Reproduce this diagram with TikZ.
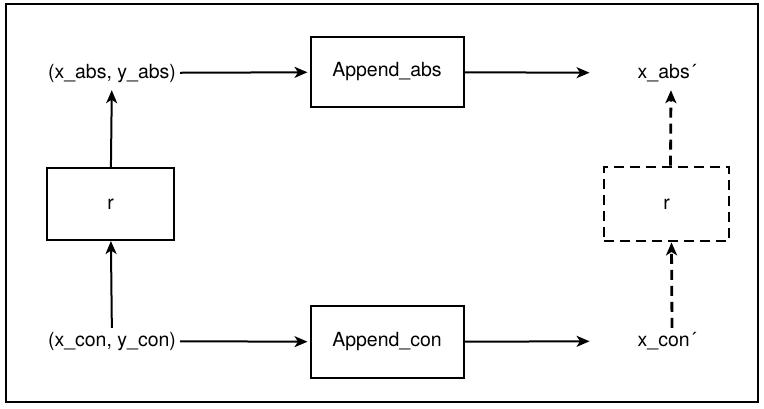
\documentclass[tikz,border=0pt]{standalone}
\usepackage{fontspec}
\setmainfont{TeX Gyre Heros}
\usetikzlibrary{arrows.meta,positioning}
\tikzset{block/.style={rectangle,draw=black,line width=2pt,minimum width=153pt,minimum height=70pt},
		label/.style={inner sep=4pt,text height=14pt,text depth=4pt},
		pre/.style={<-,>={Stealth[length=13pt,width=11pt,inset=3.5pt]},line width=2pt},
		post/.style={->,>={Stealth[length=13pt,width=11pt,inset=3.5pt]},line width=2pt}}

\begin{document}
\begin{tikzpicture}[x=1pt,y=-1pt,font=\fontsize{19.5}{23}\selectfont,
		guess/.style={rectangle,draw=black,line width=2.8pt,dash pattern=on 10pt off 6pt,minimum width=125pt,minimum height=74pt},
		dpost/.style={post,line width=2.8pt,dash pattern=on 10pt off 6pt}]
		\useasboundingbox (0,0) rectangle (764,408);
		\draw[line width=2.4pt] (6,4) rectangle (758,402);
		
		\node[label] (xy-abs) at (112,73) {(x\_abs, y\_abs)};
		\node[block] (append-abs) at (387,72) {Append\_abs} edge[pre,shorten <=2pt] (xy-abs);
		\node[label] (x-abs-out) at (667,73) {x\_abs´};
		\draw[post,shorten >=44pt] (append-abs) -- (x-abs-out);
		
		\node[block,minimum width=127pt,minimum height=72pt] (r-left) at (110.5,204) {r} edge[post,shorten >=4pt] (xy-abs);
		
		\node[label] (xy-con) at (112,341) {(x\_con, y\_con)} edge[post] (r-left);
		\node[block,minimum height=72pt] (append-con) at (387,342) {Append\_con} edge[pre,shorten <=2pt] (xy-con);
		\node[label] (x-con-out) at (667,341) {x\_con´};
		\draw[post,shorten >=44pt] (append-con) -- (x-con-out);
		
		% recovered r, drawn dashed
		\node[guess] (r-right) at (666.5,204) {r};
		\draw[dpost,shorten >=4pt] ([xshift=4pt]r-right.north) -- ([xshift=4pt]x-abs-out.south);
		\draw[dpost] ([xshift=5pt]x-con-out.north) -- ([xshift=5pt]r-right.south);
	\end{tikzpicture}
\end{document}
